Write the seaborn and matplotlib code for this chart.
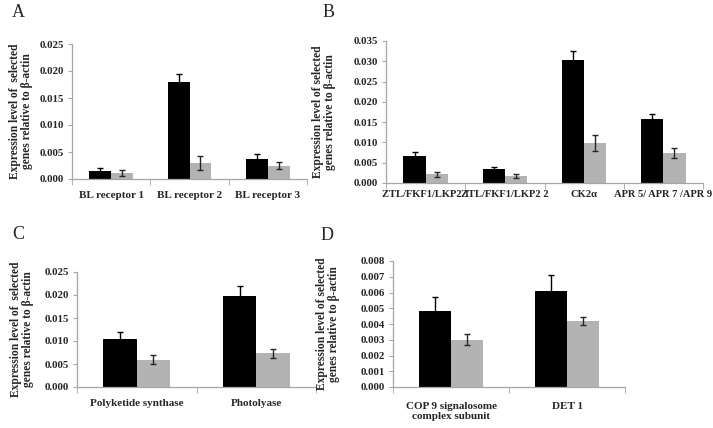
import matplotlib
matplotlib.use("Agg")
import matplotlib.pyplot as plt
import seaborn as sns
import pandas as pd

# ---------- data ----------
groups = ["dark", "light"]

a_genes = ["BL receptor 1", "BL receptor 2", "BL receptor 3"]
a_dark = [0.00148, 0.01796, 0.00364]
a_dark_err = [0.0005, 0.0015, 0.0009]
a_light = [0.00111, 0.00296, 0.00247]
a_light_err = [0.0005, 0.0013, 0.0006]

b_genes = ["ZTL/FKF1/LKP2 1", "ZTL/FKF1/LKP2 2", "CK2\u03b1", "APR 5/ APR 7 /APR 9"]
b_dark = [0.00666, 0.00353, 0.0304, 0.01578]
b_dark_err = [0.0011, 0.0003, 0.0022, 0.0013]
b_light = [0.00214, 0.00173, 0.00994, 0.00731]
b_light_err = [0.0006, 0.0006, 0.0020, 0.0012]

c_genes = ["Polyketide synthase", "Photolyase"]
c_dark = [0.01054, 0.01984]
c_dark_err = [0.0015, 0.0022]
c_light = [0.00596, 0.00734]
c_light_err = [0.0010, 0.0010]

d_genes = ["COP 9 signalosome\ncomplex subunit", "DET 1"]
d_dark = [0.00485, 0.00608]
d_dark_err = [0.00087, 0.0010]
d_light = [0.0030, 0.00418]
d_light_err = [0.00036, 0.00026]

a_ticks = [0, 0.005, 0.010, 0.015, 0.020, 0.025]
b_ticks = [0, 0.005, 0.010, 0.015, 0.020, 0.025, 0.030, 0.035]
c_ticks = [0, 0.005, 0.010, 0.015, 0.020, 0.025]
d_ticks = [0, 0.001, 0.002, 0.003, 0.004, 0.005, 0.006, 0.007, 0.008]

sns.set_style("white")
plt.rcParams['font.family'] = ['Liberation Serif', 'DejaVu Serif']

AXIS_GREY = "#a6a6a6"
palette = {"dark": "black", "light": "#b3b3b3"}


def panel(fig, rect, genes, dark, dark_err, light, light_err, ticks,
          ylabel, label_x, xpad, xsize, letter, letter_pos):
    ax = fig.add_axes(rect)
    df = pd.DataFrame({
        "gene": genes * 2,
        "group": ["dark"] * len(genes) + ["light"] * len(genes),
        "value": dark + light,
    })
    sns.barplot(data=df, x="gene", y="value", hue="group", hue_order=groups,
                palette=palette, width=0.56, gap=0, errorbar=None,
                saturation=1, edgecolor="none", legend=False, ax=ax)
    errs = dark_err + light_err
    vals = dark + light
    ecols = ["black"] * len(genes) + ["#262626"] * len(genes)
    for patch, v, e, c in zip(ax.patches, vals, errs, ecols):
        xc = patch.get_x() + patch.get_width() / 2
        ax.errorbar(xc, v, yerr=e, fmt="none", ecolor=c,
                    elinewidth=1, capsize=2, capthick=1, zorder=5)
    n = len(genes)
    ax.set_xlim(-0.5, n - 0.5)
    ax.set_ylim(0, ticks[-1])
    ax.set_yticks(ticks)
    ax.set_yticklabels(["{:.3f}".format(t) for t in ticks], fontweight="bold",
                       fontsize=7.8)
    ax.set_xticks(range(n))
    ax.set_xticklabels(genes, fontweight="bold", fontsize=xsize,
                       linespacing=1.15)
    ax.set_xticks([i - 0.5 for i in range(n + 1)], minor=True)
    ax.tick_params(axis="x", which="major", length=0, pad=xpad)
    ax.tick_params(axis="x", which="minor", length=4, color=AXIS_GREY,
                   direction="out", bottom=True)
    ax.tick_params(axis="y", which="major", length=3, color=AXIS_GREY,
                   direction="out", left=True, pad=2.5)
    for side in ["top", "right"]:
        ax.spines[side].set_visible(False)
    for side in ["left", "bottom"]:
        ax.spines[side].set_color(AXIS_GREY)
        ax.spines[side].set_linewidth(0.9)
    ax.set_xlabel("")
    ax.set_ylabel(ylabel, fontweight="bold", fontsize=8.3, va="center",
                  linespacing=1.0)
    ax.yaxis.set_label_coords(label_x, 0.5)
    fig.text(letter_pos[0] / 713, 1 - letter_pos[1] / 428, letter,
             fontsize=13, va="baseline", ha="left")
    return ax


fig = plt.figure(figsize=(7.13, 4.28), dpi=100)

lab1 = "Expression level of  selected\ngenes relative to \u03b2-actin"
lab2 = "Expression level of selected\ngenes relative to \u03b2-actin"

panel(fig, [72 / 713, 1 - 179 / 428, 235 / 713, 135 / 428],
      a_genes, a_dark, a_dark_err, a_light, a_light_err, a_ticks,
      lab1, -0.215, 9, 8, "A", (12, 17))
panel(fig, [386 / 713, 1 - 183 / 428, 317 / 713, 142 / 428],
      b_genes, b_dark, b_dark_err, b_light, b_light_err, b_ticks,
      lab2, -0.196, 5, 7.6, "B", (323, 17))
panel(fig, [77 / 713, 1 - 387 / 428, 239 / 713, 115 / 428],
      c_genes, c_dark, c_dark_err, c_light, c_light_err, c_ticks,
      lab1, -0.23, 9, 8, "C", (12, 239))
panel(fig, [393 / 713, 1 - 387 / 428, 232 / 713, 126 / 428],
      d_genes, d_dark, d_dark_err, d_light, d_light_err, d_ticks,
      lab2, -0.28, 11, 8, "D", (321, 240))

fig.savefig("out.png", dpi=100)
